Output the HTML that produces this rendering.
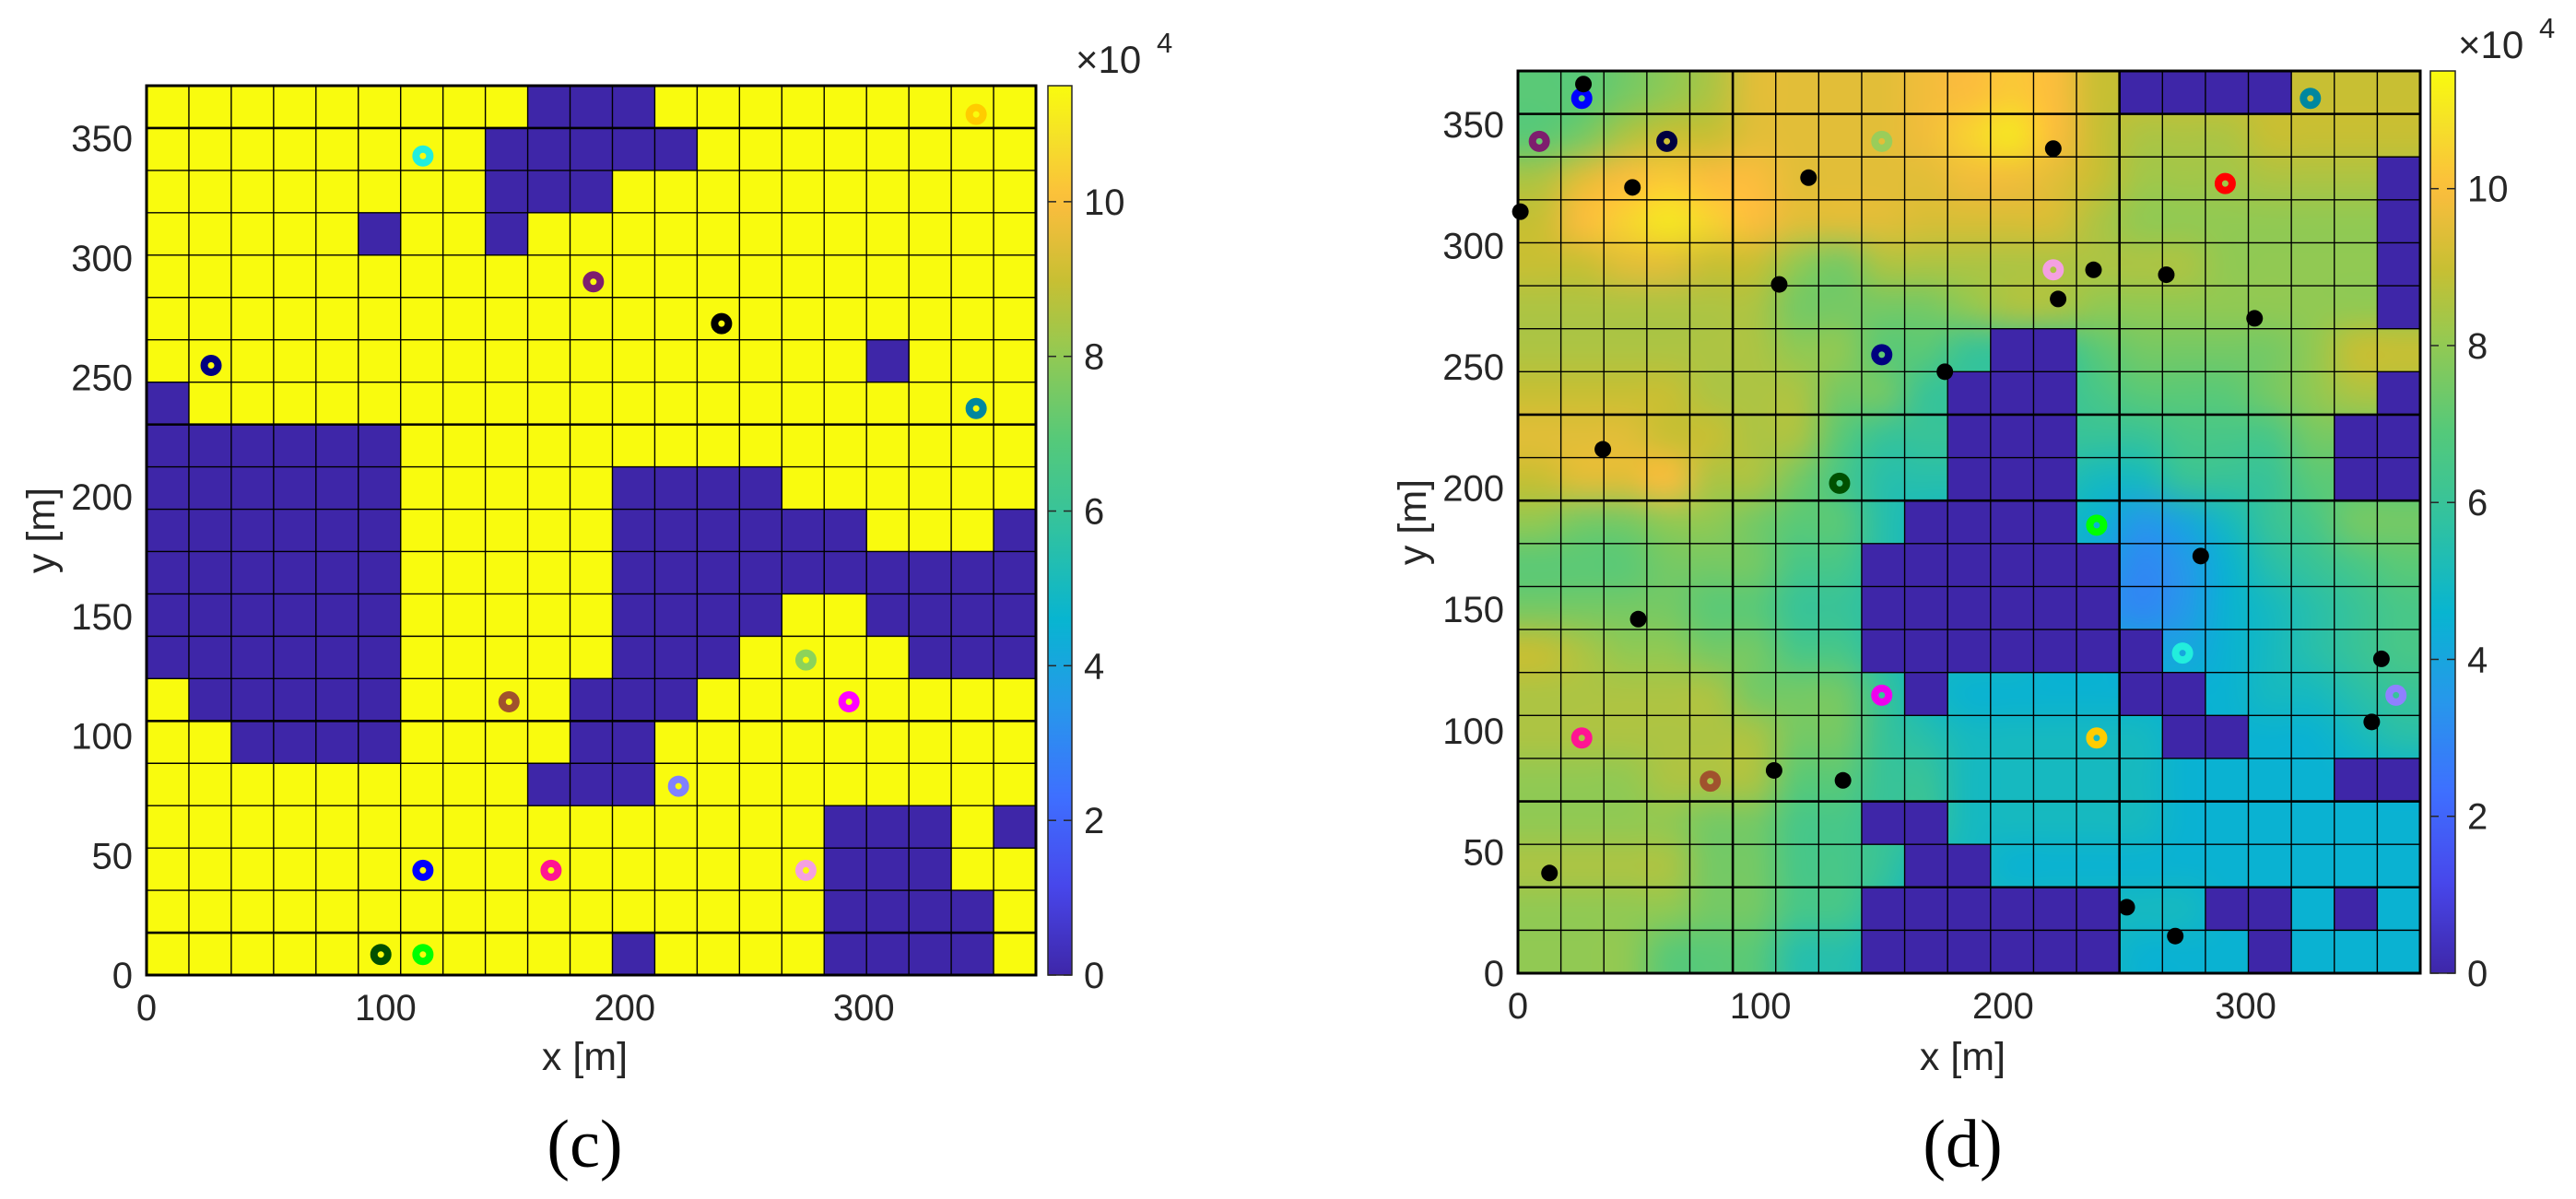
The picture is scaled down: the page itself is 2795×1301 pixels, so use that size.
<!DOCTYPE html>
<html><head><meta charset="utf-8">
<style>
html,body{margin:0;padding:0;background:#fff;}
#wrap{position:relative;width:2795px;height:1301px;overflow:hidden;background:#fff;}
#field{position:absolute;left:1647px;top:77px;width:979px;height:979px;}
svg{position:absolute;left:0;top:0;}
text{font-family:"Liberation Sans",Arial,sans-serif;fill:#262626;}
.cap{font-family:"Liberation Serif","Times New Roman",serif;fill:#000;}
</style></head>
<body>
<div id="wrap">
<canvas id="field" width="979" height="979"></canvas>
<svg id="svg" width="2795" height="1301" xmlns="http://www.w3.org/2000/svg">
<defs id="defs"></defs>
</svg>
</div>
<script>
// ---------- data ----------
const AXIS_MAX = 372;
const NCELL = 21;
const CMAX = 11.5;
const xTicks = [0,100,200,300];
const yTicks = [0,50,100,150,200,250,300,350];
const cbTicks = [0,2,4,6,8,10];

const leftMask = [
"000000000111000000000",
"000000001111100000000",
"000000001110000000000",
"000001001000000000000",
"000000000000000000000",
"000000000000000000000",
"000000000000000001000",
"100000000000000000000",
"111111000000000000000",
"111111000001111000000",
"111111000001111110001",
"111111000001111111111",
"111111000001111001111",
"111111000001110000111",
"011111000011100000000",
"001111000011000000000",
"000000000111000000000",
"000000000000000011101",
"000000000000000011100",
"000000000000000011110",
"000000000001000011110"];

const rightMask = [
"000000000000001111000",
"000000000000000000000",
"000000000000000000001",
"000000000000000000001",
"000000000000000000001",
"000000000000000000001",
"000000000001100000000",
"000000000011100000001",
"000000000011100000011",
"000000000011100000011",
"000000000111100000000",
"000000001111110000000",
"000000001111110000000",
"000000001111111000000",
"000000000100001100000",
"000000000000000110000",
"000000000000000000011",
"000000001100000000000",
"000000000110000000000",
"000000001111110011010",
"000000001111110001000"];

const rightField = [
[7,7,7.5,8,8.5,9.5,9.5,9.5,9.5,9.8,10,10.3,10,9,9,9,9,9,9,9,9],
[7,7.5,8.5,9,9,9.5,9.5,9.5,9.5,9.8,10.5,11,10,9,8.5,8.5,8.5,9,9,9,9],
[8.5,9.5,10,10.3,10,10,9.5,9.5,9.5,9.5,9.8,9.8,9.5,9,8.3,8.3,8.3,8.5,8.5,8.5,8.5],
[9,10,10.5,11,10.5,10,9.5,9.5,9.5,9.3,9.3,9.3,9.3,8.5,8,8,8,8,8,8,8],
[9,9,9.5,9.5,9,9,8,7.5,8.5,8.5,8.5,8.5,8.5,8.5,8.5,8.5,8,8,8,8,8],
[8.5,8.5,8.5,8.5,8.5,8.5,7.5,7.5,7.5,7.5,8,8.5,8.5,8,8,8,8,8,8,8,8],
[8.5,8.5,8.5,8.5,8.5,8.5,8,8,7,7,6,6,6,7,7.5,7.5,7.5,7.5,8,9,9],
[9,9,9,9,8.5,8.5,8.5,7.5,7.5,6,6,6,6,6.5,7,7,7,7.5,8,8.5,8.5],
[9.5,9.5,9.5,9,9,8.5,8.5,7,6,6,6,6,6,6,6,6.5,6.5,6.5,7.5,7.5,7.5],
[9,9.5,9.5,10,8.5,8.5,7.5,6.5,5.5,5.5,5.5,5.5,5.5,5,5,6,6,6,7,7,7],
[8,7.5,7.5,8,8,7.5,7,7,5.5,5,5,5,5,4.5,3.5,4,5,6,6.5,7.5,7.5],
[7,7,7,7.5,7.5,7.5,6.5,6.5,5.5,5,5,5,5,4,3,3.5,4.5,5.5,6,6.5,7],
[7.5,7.5,7.5,7.5,7,7,6,6,5.5,5,5,5,4,3.5,3,3.5,4.5,5,5.5,6,6.5],
[9,8.5,8,8,7.5,7.5,6.5,6.5,5.5,5,5,5,4.5,4.5,4,4,4.5,5,5.5,6,6.5],
[8.5,8.5,8.5,8.5,8.5,7.5,7.5,7.5,6,5,4.5,4.5,4.5,4.5,4.5,4.5,4.5,5,5,5.5,6],
[8.5,8.5,8.5,8.5,8.5,8.5,7.5,7.5,6,5.5,5,5,5,5,5,4.5,4.5,4.5,4.5,5,5.5],
[8,8,8,8.5,8.5,8.5,7,7,6,6,5,5,5,5,5,4.5,4.5,4.5,4.5,4.5,4.5],
[8,8,8,8,7.5,7.5,6.5,6.5,6,6,5,5,5,5,5,4.5,4.5,4.5,4.5,4.5,4.5],
[8.5,8.5,8.5,8.5,7.5,7.5,6.5,6.5,6,5,5,4.5,4.5,4.5,4.5,4.5,4.5,4.5,4.5,4.5,4.5],
[8,8,8,8,7.5,7.5,6.5,6.5,5.5,5,5,5,5,5,5,5,4.5,4.5,4.5,4.5,4.5],
[8,8,8,7,7,7,5.5,5.5,5,5,5,5,5,5,4.5,4.5,4.5,4.5,4.5,4.5,4.5]];

const leftRingX = [347,115.6,186.9,240.5,27,347,275.8,293.8,151.6,222.5,115.6,169.2,275.8,98,115.6];
const leftRingY = [360,342.6,290,272.5,255,237,131.8,114.3,114.3,79,43.8,43.8,43.8,8.6,8.6];
const leftRingC = ["#FFCC00","#22EEDD","#7E1E6E","#000000","#000080","#00879F","#8CD35A","#FF00FF","#A0522D","#8080FF","#0000FF","#FF1493","#F4A0E0","#005000","#00FF00"];

const rightRingX = [26.3,8.8,61.4,150,326.7,291.6,220.7,150,132.6,238.6,274,150,362,26.3,238.6,79.3];
const rightRingY = [360.7,343,343,343,360.7,325.6,290,255,202,184.7,132,114.6,114.6,97,97,79.2];
const rightRingC = ["#0000FF","#7E1E6E","#000040","#9ACD5A","#00879F","#FF0000","#F4A0E0","#000080","#005000","#00FF00","#22EEDD","#EE00EE","#9080FF","#FF1493","#FFCC00","#A0522D"];

const dotX = [27,1,47.2,119.8,220.7,107.7,237.3,267.3,222.7,303.7,176,35,281.5,49.6,356,352,105.6,134,13,251,271];
const dotY = [366.6,314,324,328,340,284,290,288,278,270,248,216,172,146,129.6,103.6,83.6,79.5,41.3,27.2,15.3];

const leftThickRows = [1,8,15,20];
const leftThickCols = [];
const rightThickRows = [1,8,10,17,19];
const rightThickCols = [5,14];

// ---------- helpers ----------
const NS = "http://www.w3.org/2000/svg";
const svg = document.getElementById('svg');
const defs = document.getElementById('defs');
function mk(tag, attrs, parent){
  const e = document.createElementNS(NS, tag);
  for (const k in attrs) e.setAttribute(k, attrs[k]);
  (parent||svg).appendChild(e);
  return e;
}
const PSTOPS = [
 [0.0,[0.2422,0.1504,0.6603]],
 [0.1,[0.2803,0.2782,0.9221]],
 [0.2,[0.2440,0.4358,0.9988]],
 [0.3,[0.1540,0.5902,0.9218]],
 [0.4,[0.0297,0.7082,0.8163]],
 [0.5,[0.19,0.76,0.63]],
 [0.6,[0.33,0.79,0.48]],
 [0.7,[0.58,0.79,0.32]],
 [0.78,[0.78,0.75,0.20]],
 [0.87,[0.99,0.74,0.24]],
 [0.94,[0.96,0.88,0.16]],
 [1.0,[0.9763,0.9831,0.0538]]];
function parula(t){
  t=Math.max(0,Math.min(1,t));
  for(let i=1;i<PSTOPS.length;i++){
    if(t<=PSTOPS[i][0]){
      const a=PSTOPS[i-1],b=PSTOPS[i];const f=(t-a[0])/(b[0]-a[0]);
      return a[1].map((v,j)=>Math.round(255*(v+(b[1][j]-v)*f)));
    }
  }
  return PSTOPS[PSTOPS.length-1][1].map(v=>Math.round(v*255));
}
function rgb(c){return 'rgb('+c[0]+','+c[1]+','+c[2]+')';}
const BLUE = rgb(parula(0));

function makeAxes(name, ax, cb, mask, bgFill, rings, dots, thickRows, thickCols, cap){
  const sx = v => ax.x + v/AXIS_MAX*ax.w;
  const sy = v => ax.y + ax.h - v/AXIS_MAX*ax.h;
  const g = mk('g',{});
  
  
  if (bgFill){
    const bg = mk('rect',{x:ax.x,y:ax.y,width:ax.w,height:ax.h,fill:bgFill},g);
    
    
  }
  const cw = ax.w/NCELL, ch = ax.h/NCELL;
  const cells = mk('g',{},g);
  
  
  for(let r=0;r<NCELL;r++) for(let c=0;c<NCELL;c++){
    if(mask[r][c]==='1'){
      const e = mk('rect',{x:ax.x+c*cw,y:ax.y+r*ch,width:cw+0.5,height:ch+0.5,fill:BLUE},cells);
      
      
    }
  }
  const grid = mk('g',{stroke:'#000'},g);
  
  
  for(let i=1;i<NCELL;i++){
    const y = ax.y+i*ch, x = ax.x+i*cw;
    mk('line',{x1:ax.x,x2:ax.x+ax.w,y1:y,y2:y,'stroke-width':thickRows.includes(i)?2.6:1.4},grid);
    mk('line',{y1:ax.y,y2:ax.y+ax.h,x1:x,x2:x,'stroke-width':thickCols.includes(i)?2.6:1.4},grid);
  }
  const rg = mk('g',{},g);
  
  
  for(let i=0;i<rings.x.length;i++){
    const e = mk('circle',{cx:sx(rings.x[i]),cy:sy(rings.y[i]),r:7.5,fill:'none',stroke:rings.c[i],'stroke-width':8},rg);
    
    
  }
  if(dots){
    const dg = mk('g',{},g);
    
    
    for(let i=0;i<dots.x.length;i++){
      const e = mk('circle',{cx:sx(dots.x[i]),cy:sy(dots.y[i]),r:9,fill:'#000'},dg);
      
      
    }
  }
  const frame = mk('rect',{x:ax.x,y:ax.y,width:ax.w,height:ax.h,fill:'none',stroke:'#000','stroke-width':3},g);
  
  
  xTicks.forEach(v=>{
    const t = mk('text',{x:sx(v),y:ax.y+ax.h+49,'font-size':40,'text-anchor':'middle'},g);
    t.textContent=v;
    
    
  });
  yTicks.forEach(v=>{
    const t = mk('text',{x:ax.x-15,y:sy(v)+14,'font-size':40,'text-anchor':'end'},g);
    t.textContent=v;
    
    
  });
  const xl = mk('text',{x:ax.x+ax.w/2-7,y:1161,'font-size':43,'text-anchor':'middle'},g);
  xl.textContent='x [m]';
  
  
  const yl = mk('text',{x:0,y:0,'font-size':43,'text-anchor':'middle',transform:'translate('+(ax.x-100)+','+(ax.y+ax.h/2)+') rotate(-90)'},g);
  yl.textContent='y [m]';
  
  
  const gid = 'grad-'+name;
  const lg = mk('linearGradient',{id:gid,x1:0,y1:1,x2:0,y2:0},defs);
  for(let i=0;i<=50;i++){ mk('stop',{offset:(i/50),'stop-color':rgb(parula(i/50))},lg); }
  const cby = v => cb.y + cb.h - v/CMAX*cb.h;
  const cbr = mk('rect',{x:cb.x,y:cb.y,width:cb.w,height:cb.h,fill:'url(#'+gid+')',stroke:'#262626','stroke-width':1.5},g);
  
  
  cbTicks.forEach(v=>{
    mk('line',{x1:cb.x+cb.w-9,x2:cb.x+cb.w,y1:cby(v),y2:cby(v),stroke:'#262626','stroke-width':1.5},g);
    mk('line',{x1:cb.x,x2:cb.x+9,y1:cby(v),y2:cby(v),stroke:'#262626','stroke-width':1.5},g);
    const t = mk('text',{x:cb.x+cb.w+13,y:cby(v)+14,'font-size':40},g);
    t.textContent=v;
    
    
  });
  const ex = mk('text',{x:cb.x+30,y:cb.y-14,'font-size':42},g);
  ex.textContent='×10';
  
  
  const ex2 = mk('text',{x:cb.x+118,y:cb.y-36,'font-size':31},g);
  ex2.textContent='4';
  
  
  const cp = mk('text',{x:ax.x+ax.w/2-7,y:1266,'font-size':74,'text-anchor':'middle','class':'cap'},g);
  cp.textContent=cap;
  
  
}

(function(){
  const small = document.createElement('canvas');
  small.width=NCELL; small.height=NCELL;
  const sc = small.getContext('2d');
  const img = sc.createImageData(NCELL,NCELL);
  for(let r=0;r<NCELL;r++) for(let c=0;c<NCELL;c++){
    const col = parula(rightField[r][c]/CMAX); const k=(r*NCELL+c)*4;
    img.data[k]=col[0];img.data[k+1]=col[1];img.data[k+2]=col[2];img.data[k+3]=255;
  }
  sc.putImageData(img,0,0);
  const cv = document.getElementById('field');
  const ctx = cv.getContext('2d');
  ctx.imageSmoothingEnabled = true;
  ctx.imageSmoothingQuality = 'high';
  ctx.drawImage(small,0,0,cv.width,cv.height);
})();

makeAxes('left', {x:159,y:93,w:965,h:965}, {x:1137,y:93,w:26,h:965}, leftMask, rgb(parula(1)),
  {x:leftRingX,y:leftRingY,c:leftRingC}, null, leftThickRows, leftThickCols, '(c)');
makeAxes('right', {x:1647,y:77,w:979,h:979}, {x:2637,y:77,w:27,h:979}, rightMask, null,
  {x:rightRingX,y:rightRingY,c:rightRingC}, {x:dotX,y:dotY}, rightThickRows, rightThickCols, '(d)');
</script>
</body></html>
